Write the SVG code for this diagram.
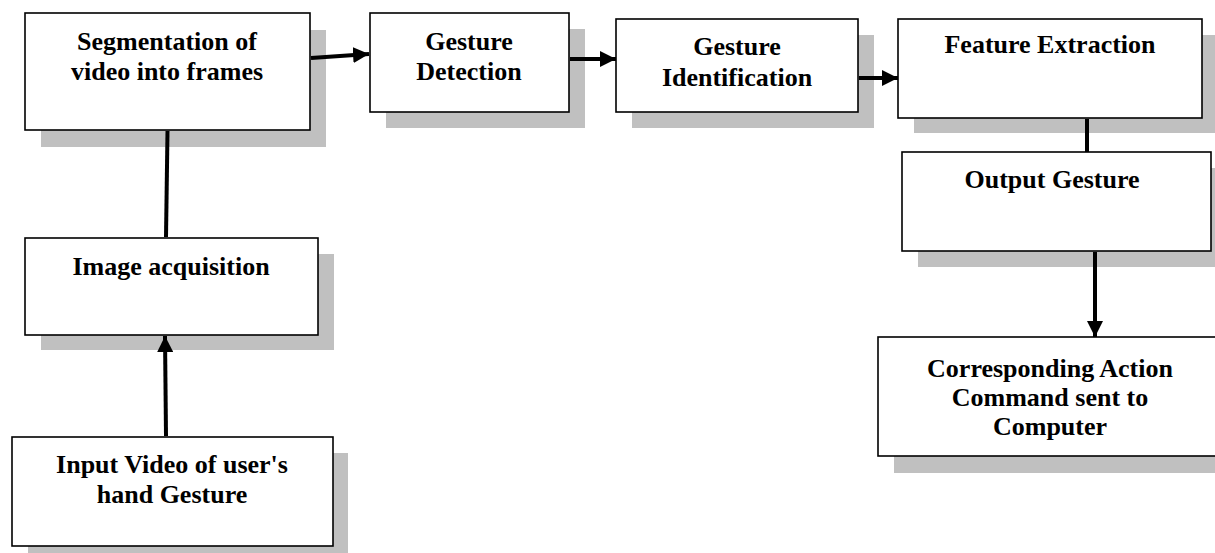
<svg xmlns="http://www.w3.org/2000/svg" width="1215" height="553" viewBox="0 0 1215 553">
<style>
.shadow{fill:#c0c0c0;stroke:none}
.box{fill:#ffffff;stroke:#000000;stroke-width:1.6}
.lbl{font-family:"Liberation Serif","Times New Roman",serif;font-weight:bold;font-size:26px;fill:#000000;text-anchor:middle}
.conn{stroke:#000000;stroke-width:4;fill:none}
</style>
<defs>
<marker id="ah" markerUnits="userSpaceOnUse" markerWidth="18" markerHeight="16" refX="16" refY="8" orient="auto">
<path d="M0,0 L16,8 L0,16 Z" fill="#000000"/>
</marker>
</defs>
<rect width="1215" height="553" fill="#ffffff"/>
<g id="n-segmentation">
<rect class="shadow" x="41" y="30" width="285" height="117"/>
<rect class="box" x="25" y="13" width="285" height="117"/>
<text class="lbl" x="167" y="50">Segmentation of</text>
<text class="lbl" x="167" y="80">video into frames</text>
</g>
<g id="n-detection">
<rect class="shadow" x="386" y="29" width="199" height="99"/>
<rect class="box" x="370" y="13" width="199" height="99"/>
<text class="lbl" x="469" y="50">Gesture</text>
<text class="lbl" x="469" y="80">Detection</text>
</g>
<g id="n-identification">
<rect class="shadow" x="632" y="35" width="242" height="93"/>
<rect class="box" x="616" y="19" width="242" height="93"/>
<text class="lbl" x="737" y="55">Gesture</text>
<text class="lbl" x="737" y="86">Identification</text>
</g>
<g id="n-feature">
<rect class="shadow" x="914" y="35" width="310" height="98"/>
<rect class="box" x="898" y="19" width="304" height="99"/>
<text class="lbl" x="1050" y="53">Feature Extraction</text>
</g>
<g id="n-output">
<rect class="shadow" x="918" y="168" width="310" height="99"/>
<rect class="box" x="902" y="152" width="309" height="99"/>
<text class="lbl" x="1052" y="188">Output Gesture</text>
</g>
<g id="n-action">
<rect class="shadow" x="894" y="353" width="340" height="120"/>
<rect class="box" x="878" y="337" width="345" height="119"/>
<text class="lbl" x="1050" y="377">Corresponding Action</text>
<text class="lbl" x="1050" y="406">Command sent to</text>
<text class="lbl" x="1050" y="435">Computer</text>
</g>
<g id="n-acquisition">
<rect class="shadow" x="41" y="254" width="293" height="96"/>
<rect class="box" x="25" y="238" width="293" height="97"/>
<text class="lbl" x="171" y="275">Image acquisition</text>
</g>
<g id="n-input">
<rect class="shadow" x="28" y="453" width="320" height="105"/>
<rect class="box" x="12" y="437" width="321" height="109"/>
<text class="lbl" x="172" y="473">Input Video of user's</text>
<text class="lbl" x="172" y="503">hand Gesture</text>
</g>
<g id="connectors">
<line class="conn" x1="311" y1="58" x2="369" y2="54" marker-end="url(#ah)"/>
<line class="conn" x1="570" y1="59" x2="616" y2="59" marker-end="url(#ah)"/>
<line class="conn" x1="859" y1="78" x2="898" y2="78" marker-end="url(#ah)"/>
<line class="conn" x1="1087" y1="119" x2="1087" y2="152"/>
<line class="conn" x1="1095" y1="252" x2="1095" y2="337" marker-end="url(#ah)"/>
<line class="conn" x1="167.5" y1="131" x2="166" y2="237"/>
<line class="conn" x1="166" y1="436" x2="165" y2="336" marker-end="url(#ah)"/>
</g>
</svg>
